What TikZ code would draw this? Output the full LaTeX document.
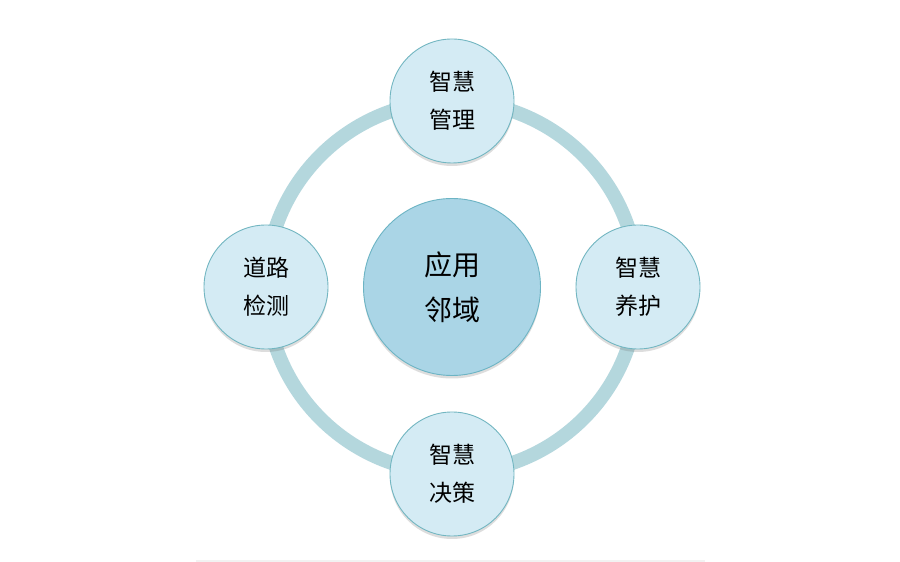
\documentclass[tikz,border=0pt]{standalone}
\usepackage{fontspec}
\newfontfamily\cjk{Noto Sans CJK SC}
\usetikzlibrary{shadows}
\definecolor{ringc}{HTML}{B4D7DD}
\definecolor{smallfill}{HTML}{D4EBF4}
\definecolor{smalledge}{HTML}{72B6C1}
\definecolor{bigfill}{HTML}{AAD5E6}
\definecolor{bigedge}{HTML}{6CB4C4}
\definecolor{faint}{HTML}{F2F2F2}
\tikzset{
  smallc/.style={circle, draw=smalledge, line width=0.9pt, fill=smallfill,
    minimum size=124pt, inner sep=0pt, align=center,
    font=\cjk\fontsize{23}{38}\selectfont,
    drop shadow={shadow xshift=0pt, shadow yshift=-3pt, opacity=0.22, fill=black!60}},
  bigc/.style={circle, draw=bigedge, line width=0.9pt, fill=bigfill,
    minimum size=177pt, inner sep=0pt, align=center,
    font=\cjk\fontsize{28}{45}\selectfont,
    drop shadow={shadow xshift=0pt, shadow yshift=-3pt, opacity=0.22, fill=black!60}},
  ringline/.style={draw=ringc, line width=14pt}
}
\begin{document}
\begin{tikzpicture}[x=1pt,y=1pt]
\useasboundingbox[fill=white] (0,0) rectangle (900,562);
\draw[faint, line width=1.5pt] (196,1) -- (705,1);
\coordinate (o) at (452,275);
\draw[ringline] (o) circle[radius=186];
\node[bigc] (center) at (o) {应用\\邻域};
\node[smallc] (top) at (452,461) {智慧\\管理};
\node[smallc] (right) at (638,275) {智慧\\养护};
\node[smallc] (bottom) at (452,88) {智慧\\决策};
\node[smallc] (left) at (266,275) {道路\\检测};
\end{tikzpicture}
\end{document}
